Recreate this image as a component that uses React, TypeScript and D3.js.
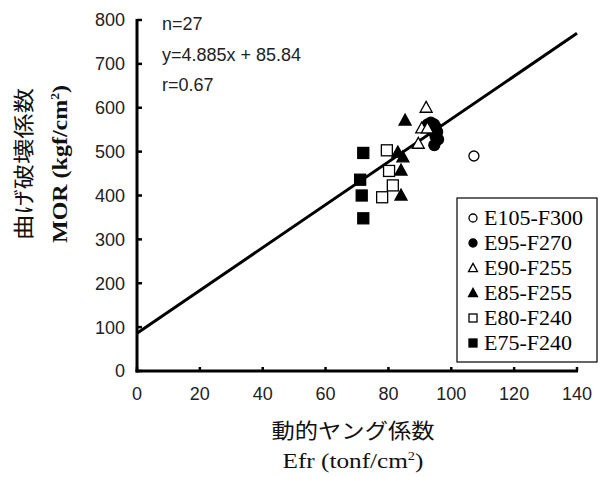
import React from "react";
import * as d3 from "d3";

// Dynamic Young's modulus (Efr) vs. modulus of rupture (MOR), grouped by grade
const grades = ["E105-F300", "E95-F270", "E90-F255", "E85-F255", "E80-F240", "E75-F240"];
const markerKinds = ["circleOpen", "circleFilled", "triOpen", "triFilled", "squareOpen", "squareFilled"];

const e105Points: [number, number][] = [[107.2, 490]];
const e95Points: [number, number][] = [
  [92.5, 562], [93.5, 566], [94.5, 562], [95, 556], [94, 548],
  [95.5, 545], [95, 535], [95.8, 528], [94.6, 515],
];
const e90Points: [number, number][] = [[92, 601], [90.6, 554], [92.4, 554], [89.5, 519]];
const e85Points: [number, number][] = [[85.3, 572], [83, 499], [84.6, 488], [84, 458], [84, 401]];
const e80Points: [number, number][] = [[79.5, 503], [80.2, 456], [81.4, 423], [78, 396]];
const e75Points: [number, number][] = [[72, 497], [71, 436], [71.5, 400], [72, 348]];

const seriesPoints = [e105Points, e95Points, e90Points, e85Points, e80Points, e75Points];

const xTicks = [0, 20, 40, 60, 80, 100, 120, 140];
const yTicks = [0, 100, 200, 300, 400, 500, 600, 700, 800];

const slope = 4.885;
const intercept = 85.84;
const statLines = ["n=27", "y=4.885x + 85.84", "r=0.67"];

const W = 608;
const H = 477;
const left = 137;
const right = 577;
const top = 20;
const bottom = 371;

const sans = "'Liberation Sans', Arial, sans-serif";
const serif = "'Liberation Serif', 'Times New Roman', serif";
const cjk = "'Noto Sans CJK JP', sans-serif";

function Marker({ kind, cx, cy, s }: { kind: string; cx: number; cy: number; s: number }) {
  const filled = kind.endsWith("Filled");
  const fill = filled ? "#000" : "#fff";
  const sw = 1.3;
  if (kind.startsWith("circle")) {
    return <circle cx={cx} cy={cy} r={s / 2} fill={fill} stroke="#000" strokeWidth={sw} />;
  }
  if (kind.startsWith("tri")) {
    const h = s * 0.9;
    const path = d3.path();
    path.moveTo(cx, cy - h / 2 - 1);
    path.lineTo(cx + s / 2 + 0.5, cy + h / 2);
    path.lineTo(cx - s / 2 - 0.5, cy + h / 2);
    path.closePath();
    return <path d={path.toString()} fill={fill} stroke="#000" strokeWidth={sw} strokeLinejoin="miter" />;
  }
  return (
    <rect x={cx - s / 2} y={cy - s / 2} width={s} height={s} fill={fill} stroke="#000" strokeWidth={sw} />
  );
}

export default function App() {
  const x = d3.scaleLinear().domain([0, 140]).range([left, right]);
  const y = d3.scaleLinear().domain([0, 800]).range([bottom, top]);

  const fitLine = d3
    .line<number>()
    .x((d) => x(d))
    .y((d) => y(slope * d + intercept))([0, 140]);

  const legendX = 457;
  const legendY = 198;
  const legendW = 140;
  const legendH = 164;
  const rowBase = (i: number) => 225 + i * 25;

  return (
    <svg width={W} height={H} style={{ position: "absolute", left: 0, top: 0, background: "#fff" }}>
      <rect x={0} y={0} width={W} height={H} fill="#fff" />

      {/* regression line */}
      <path d={fitLine ?? ""} fill="none" stroke="#000" strokeWidth={3} />

      {/* data points */}
      {seriesPoints.map((pts, si) =>
        pts.map((p, i) => (
          <Marker key={`${si}-${i}`} kind={markerKinds[si]} cx={x(p[0])} cy={y(p[1])} s={si === 0 ? 10 : 11} />
        ))
      )}

      {/* axes */}
      <line x1={left} x2={left} y1={top - 1} y2={bottom + 1.5} stroke="#000" strokeWidth={3} />
      <line x1={left - 1.5} x2={right + 1} y1={bottom} y2={bottom} stroke="#000" strokeWidth={3} />
      {yTicks.map((t) => (
        <g key={`y${t}`}>
          <line x1={left} x2={left + 5} y1={y(t)} y2={y(t)} stroke="#000" strokeWidth={2.5} />
          <text
            x={left - 12}
            y={y(t)}
            dy="0.36em"
            textAnchor="end"
            fontFamily={sans}
            fontSize={18}
            fill="#222"
          >
            {t}
          </text>
        </g>
      ))}
      {xTicks.map((t) => (
        <g key={`x${t}`}>
          <line x1={x(t)} x2={x(t)} y1={bottom} y2={bottom - 4} stroke="#000" strokeWidth={2.5} />
          <text x={x(t)} y={bottom + 29} textAnchor="middle" fontFamily={sans} fontSize={18} fill="#222">
            {t}
          </text>
        </g>
      ))}

      {/* statistics */}
      {statLines.map((s, i) => (
        <text key={s} x={162} y={30 + i * 30.5} fontFamily={sans} fontSize={18} fill="#222">
          {s}
        </text>
      ))}

      {/* legend */}
      <rect x={legendX} y={legendY} width={legendW} height={legendH} fill="#fff" stroke="#000" strokeWidth={1.2} />
      {grades.map((g, i) => (
        <g key={g}>
          <Marker kind={markerKinds[i]} cx={473} cy={rowBase(i) - 7} s={8} />
          <text x={484} y={rowBase(i)} fontFamily={serif} fontSize={22} fill="#000">
            {g}
          </text>
        </g>
      ))}

      {/* x axis title */}
      <text
        x={353}
        y={438}
        textAnchor="middle"
        fontFamily={cjk}
        fontSize={21}
        textLength={163}
        lengthAdjust="spacingAndGlyphs"
        fill="#111"
      >
        動的ヤング係数
      </text>
      <text
        x={353}
        y={468}
        textAnchor="middle"
        fontFamily={serif}
        fontSize={21}
        textLength={141}
        lengthAdjust="spacingAndGlyphs"
        fill="#111"
      >
        Efr (tonf/cm<tspan fontSize={12} dy={-8}>2</tspan>
        <tspan dy={8}>)</tspan>
      </text>

      {/* y axis title */}
      <g transform="translate(31,164) rotate(-90)">
        <text
          x={0}
          y={0}
          textAnchor="middle"
          fontFamily={cjk}
          fontSize={21}
          textLength={152}
          lengthAdjust="spacingAndGlyphs"
          fill="#111"
        >
          曲げ破壊係数
        </text>
      </g>
      <g transform="translate(67,164) rotate(-90)">
        <text
          x={0}
          y={0}
          textAnchor="middle"
          fontFamily={serif}
          fontSize={21}
          fontWeight="bold"
          textLength={158}
          lengthAdjust="spacingAndGlyphs"
          fill="#111"
        >
          MOR (kgf/cm<tspan fontSize={12} dy={-8}>2</tspan>
          <tspan dy={8}>)</tspan>
        </text>
      </g>
    </svg>
  );
}
